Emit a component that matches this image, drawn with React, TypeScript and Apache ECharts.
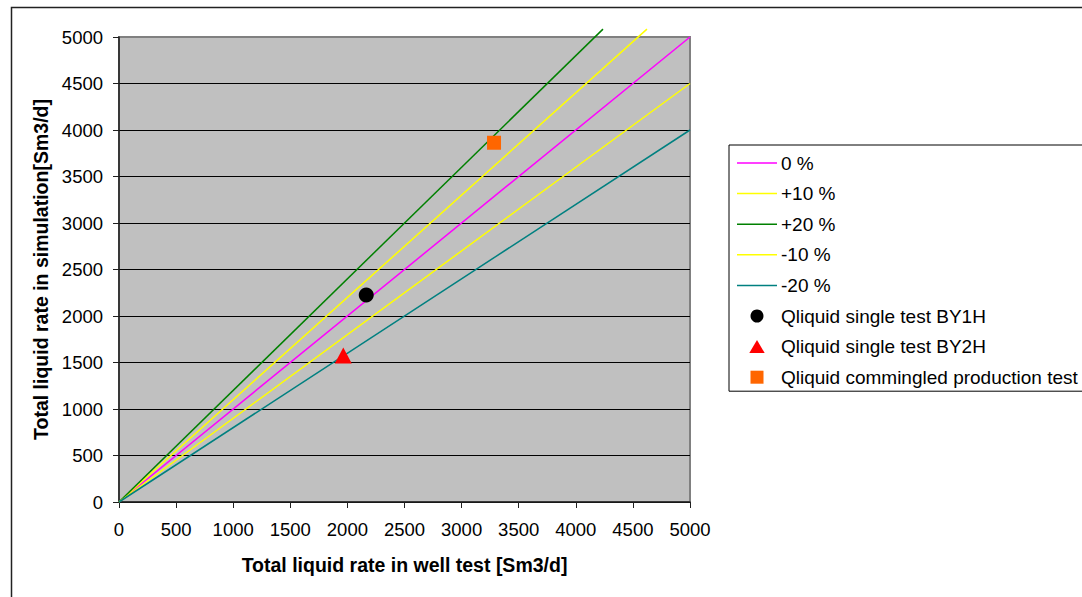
import React, { useEffect, useRef } from "react";
import * as echarts from "echarts";

// Reference lines (deviation bands) – [well test, simulation]
const line0: number[][] = [[0, 0], [5000, 5000]];
const linePlus10: number[][] = [[0, 0], [4623, 5085]];
const linePlus20: number[][] = [[0, 0], [4238, 5085]];
const lineMinus10: number[][] = [[0, 0], [5000, 4500]];
const lineMinus20: number[][] = [[0, 0], [5000, 4000]];

// Measured points
const by1h: number[][] = [[2165, 2226]];
const by2h: number[][] = [[1964, 1575]];
const commingled: number[][] = [[3284, 3863]];

const lineNames = ["0 %", "+10 %", "+20 %", "-10 %", "-20 %"];
const lineColors = ["#FF00FF", "#FFFF00", "#008000", "#FFFF00", "#008080"];
const lineData = [line0, linePlus10, linePlus20, lineMinus10, lineMinus20];

const pointNames = [
  "Qliquid single test BY1H",
  "Qliquid single test BY2H",
  "Qliquid commingled production test",
];
const pointData = [by1h, by2h, commingled];

const xTitle = "Total liquid rate in well test [Sm3/d]";
const yTitle = "Total liquid rate in simulation[Sm3/d]";

export default function App() {
  const ref = useRef<HTMLDivElement>(null);
  useEffect(() => {
    if (!ref.current) return;
    const chart = echarts.init(ref.current, undefined, { renderer: "svg" });
    const font = "'Liberation Sans', Arial, sans-serif";
    const lineSeries = lineNames.map((name, i) => ({
      name,
      type: "line",
      data: lineData[i],
      showSymbol: false,
      symbol: "none",
      clip: false,
      lineStyle: { color: lineColors[i], width: 1.5 },
      itemStyle: { color: lineColors[i] },
      z: 3,
    }));
    const pointStyles = [
      { symbol: "circle", symbolSize: 15, color: "#000000", icon: "path://M6,0 A6,6 0 1 1 5.99,0 Z" },
      { symbol: "triangle", symbolSize: [17, 16], color: "#FF0000", icon: "path://M6.5,0 L13,11 L0,11 Z" },
      { symbol: "rect", symbolSize: 14, color: "#FF6600", icon: "path://M0,0 H13 V13 H0 Z" },
    ];
    const scatterSeries = pointNames.map((name, i) => ({
      name,
      type: "scatter",
      data: pointData[i],
      symbol: pointStyles[i].symbol,
      symbolSize: pointStyles[i].symbolSize,
      itemStyle: { color: pointStyles[i].color, opacity: 1 },
      z: 4,
    }));
    const legendData = [
      ...lineNames.map((name) => ({ name, icon: "path://M0,0 H40 V1.5 H0 Z" })),
      ...pointNames.map((name, i) => ({ name, icon: pointStyles[i].icon })),
    ];
    const noComma = (v: number) => String(v);
    chart.setOption({
      animation: false,
      textStyle: { fontFamily: font },
      grid: {
        left: 119,
        top: 37,
        width: 571,
        height: 465,
        show: true,
        backgroundColor: "#C0C0C0",
        borderColor: "#808080",
        borderWidth: 2,
      },
      xAxis: {
        type: "value",
        min: 0,
        max: 5000,
        interval: 500,
        name: xTitle,
        nameLocation: "middle",
        nameGap: 53,
        nameTextStyle: { fontFamily: font, fontWeight: "bold", fontSize: 19.5, color: "#000" },
        axisLine: { show: true, onZero: false, lineStyle: { color: "#202020", width: 1.5 } },
        axisTick: { show: true, inside: false, length: 6, lineStyle: { color: "#202020" } },
        axisLabel: { margin: 18, fontFamily: font, fontSize: 18.5, color: "#000", formatter: noComma },
        splitLine: { show: false },
      },
      yAxis: {
        type: "value",
        min: 0,
        max: 5000,
        interval: 500,
        name: yTitle,
        nameLocation: "middle",
        nameGap: 59,
        nameTextStyle: { fontFamily: font, fontWeight: "bold", fontSize: 19.5, color: "#000" },
        axisLine: { show: true, onZero: false, lineStyle: { color: "#202020", width: 1.5 } },
        axisTick: { show: true, inside: false, length: 6, lineStyle: { color: "#202020" } },
        axisLabel: { margin: 16, fontFamily: font, fontSize: 18.5, color: "#000", formatter: noComma },
        splitLine: { show: true, showMaxLine: false, lineStyle: { color: "#000", width: 1 } },
      },
      legend: {
        orient: "vertical",
        left: 729,
        top: 145,
        padding: [8, 6, 4, 8],
        itemWidth: 40,
        itemHeight: 13,
        itemGap: 10.6,
        borderColor: "#000",
        borderWidth: 1,
        backgroundColor: "#fff",
        textStyle: { fontFamily: font, fontSize: 19, color: "#000", lineHeight: 20, padding: [0, 0, 0, -1] },
        data: legendData,
      },
      graphic: [
        {
          type: "rect",
          left: 9,
          top: 5,
          shape: { x: 0, y: 0, width: 1200, height: 1000 },
          style: { fill: "none", stroke: "#222", lineWidth: 1.5 },
          z: -10,
          silent: true,
        },
      ],
      series: [...lineSeries, ...scatterSeries],
    });
    return () => chart.dispose();
  }, []);
  return (
    <div
      ref={ref}
      style={{ position: "fixed", left: 0, top: 0, width: 1082, height: 597, background: "#fff" }}
    />
  );
}
